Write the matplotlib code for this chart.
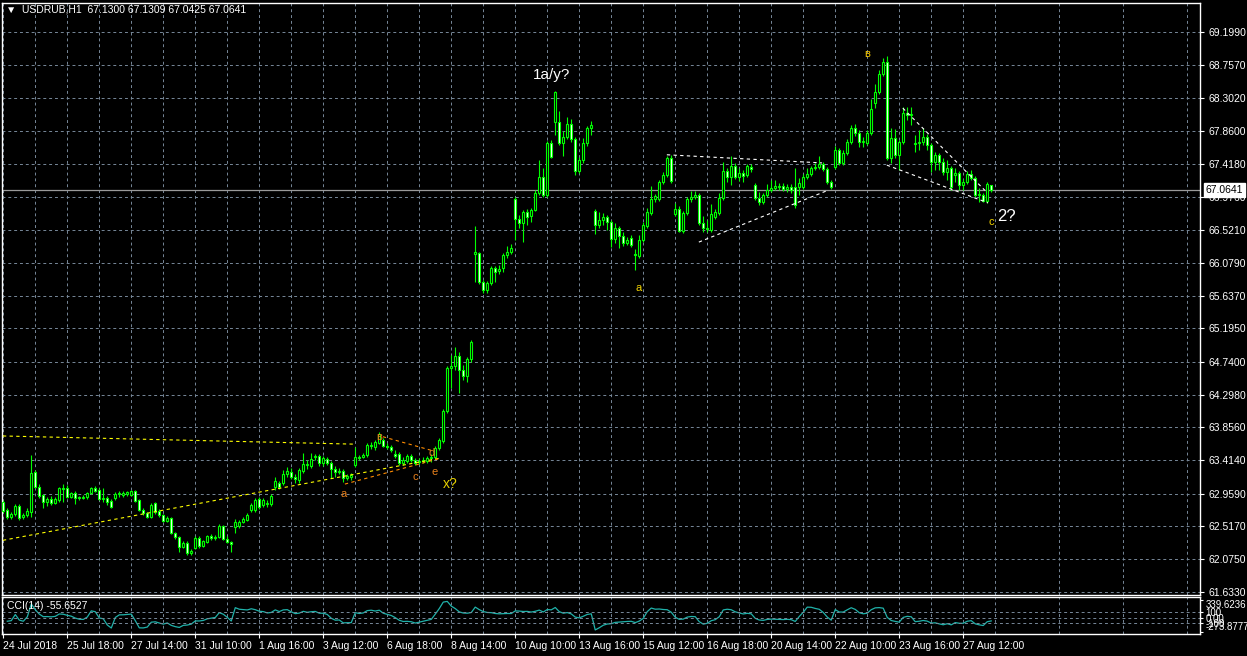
import numpy as np
import pandas as pd
import matplotlib
matplotlib.use("Agg")
import matplotlib.pyplot as plt

plt.rcParams["font.family"] = ["Liberation Sans", "DejaVu Sans"]

# USDRUB H1 candles, one value per bar
opens = [
    62.85, 62.74, 62.64, 62.68, 62.79, 62.64, 62.67, 62.71, 63.25, 63.05,
    62.94, 62.85, 62.89, 62.83, 62.87, 63.04, 63.04, 62.92, 62.97, 62.91,
    62.90, 62.92, 62.97, 63.04, 63.01, 62.89, 62.90, 62.86, 62.90, 62.96,
    62.94, 62.96, 62.94, 63.00, 62.87, 62.74, 62.70, 62.64, 62.83, 62.73,
    62.67, 62.59, 62.63, 62.43, 62.37, 62.24, 62.29, 62.16, 62.23, 62.36,
    62.25, 62.31, 62.39, 62.36, 62.37, 62.52, 62.35, 62.31, 62.51, 62.52,
    62.58, 62.60, 62.74, 62.74, 62.89, 62.81, 62.82, 62.82, 63.05, 63.11,
    63.11, 63.23, 63.25, 63.19, 63.15, 63.27, 63.35, 63.33, 63.45, 63.47,
    63.37, 63.43, 63.37, 63.29, 63.25, 63.27, 63.17, 63.19, 63.35, 63.45,
    63.45, 63.48, 63.60, 63.59, 63.64, 63.68, 63.60, 63.59, 63.49, 63.49,
    63.37, 63.40, 63.47, 63.41, 63.39, 63.40, 63.40, 63.44, 63.45, 63.58,
    63.67, 64.08, 64.66, 64.68, 64.82, 64.63, 64.55, 64.78, 66.20, 66.21,
    65.82, 65.71, 65.81, 66.01, 65.97, 66.01, 66.19, 66.23, 66.94, 66.67,
    66.62, 66.77, 66.71, 66.79, 67.02, 67.24, 67.00, 67.70, 67.98, 67.98,
    67.70, 67.78, 67.96, 67.75, 67.32, 67.47, 67.70, 67.90, 66.78, 66.59,
    66.66, 66.70, 66.63, 66.40, 66.55, 66.44, 66.35, 66.42, 66.20, 66.17,
    66.39, 66.58, 66.75, 66.94, 66.94, 67.17, 67.27, 67.50, 66.74, 66.81,
    66.51, 66.75, 66.94, 66.97, 67.00, 66.62, 66.55, 66.52, 66.70, 66.75,
    66.96, 67.32, 67.24, 67.39, 67.24, 67.29, 67.27, 67.37, 67.13, 66.96,
    66.90, 67.00, 67.06, 67.09, 67.10, 67.12, 67.08, 67.10, 67.10, 67.10,
    67.10, 67.24, 67.28, 67.36, 67.37, 67.42, 67.35, 67.17, 67.37, 67.60,
    67.43, 67.56, 67.71, 67.90, 67.83, 67.71, 67.70, 67.83, 68.24, 68.39,
    68.63, 68.79, 67.50, 67.77, 67.54, 67.71, 68.10, 68.08, 67.70, 67.70,
    67.71, 67.78, 67.67, 67.44, 67.54, 67.44, 67.31, 67.36, 67.27, 67.29,
    67.13, 67.17, 67.28, 67.23, 67.00, 67.00, 66.92, 67.13,
]
highs = [
    62.87, 62.77, 62.71, 62.82, 62.82, 62.70, 62.77, 63.48, 63.28, 63.09,
    62.96, 62.92, 62.93, 62.92, 63.05, 63.09, 63.08, 62.98, 63.00, 62.93,
    62.94, 62.98, 63.05, 63.06, 63.04, 63.04, 62.93, 62.89, 62.98, 63.00,
    63.00, 63.00, 63.01, 63.01, 62.89, 62.77, 62.71, 62.83, 62.85, 62.75,
    62.68, 62.66, 62.64, 62.44, 62.39, 62.32, 62.32, 62.21, 62.39, 62.39,
    62.33, 62.40, 62.41, 62.40, 62.55, 62.54, 62.39, 62.32, 62.62, 62.60,
    62.64, 62.70, 62.83, 62.90, 62.92, 62.90, 62.87, 62.96, 63.19, 63.13,
    63.28, 63.32, 63.31, 63.23, 63.31, 63.51, 63.41, 63.51, 63.49, 63.49,
    63.47, 63.45, 63.40, 63.33, 63.31, 63.29, 63.23, 63.24, 63.59, 63.48,
    63.51, 63.64, 63.66, 63.68, 63.79, 63.71, 63.64, 63.62, 63.55, 63.52,
    63.45, 63.49, 63.49, 63.44, 63.44, 63.45, 63.47, 63.49, 63.60, 63.71,
    64.10, 64.68, 64.83, 64.94, 64.87, 64.70, 64.81, 65.04, 66.58, 66.23,
    65.85, 65.83, 66.04, 66.04, 66.05, 66.21, 66.31, 66.33, 66.97, 66.73,
    66.79, 66.81, 66.82, 67.06, 67.47, 67.36, 67.73, 67.74, 68.40, 68.13,
    67.86, 68.05, 68.02, 67.78, 67.51, 67.77, 67.93, 68.00, 66.81, 66.77,
    66.75, 66.73, 66.66, 66.62, 66.58, 66.50, 66.43, 66.46, 66.27, 66.46,
    66.63, 66.82, 67.12, 67.01, 67.20, 67.31, 67.52, 67.54, 66.89, 66.85,
    66.78, 66.97, 67.05, 67.05, 67.02, 66.71, 66.66, 66.87, 66.81, 67.02,
    67.44, 67.36, 67.52, 67.43, 67.36, 67.33, 67.42, 67.42, 67.16, 67.04,
    67.02, 67.14, 67.20, 67.20, 67.16, 67.16, 67.14, 67.14, 67.36, 67.23,
    67.28, 67.36, 67.39, 67.43, 67.52, 67.44, 67.37, 67.20, 67.66, 67.63,
    67.60, 67.75, 67.94, 67.96, 67.87, 67.78, 67.87, 68.29, 68.50, 68.69,
    68.85, 68.87, 67.90, 67.89, 67.74, 68.19, 68.19, 68.19, 67.81, 67.87,
    67.90, 67.82, 67.70, 67.58, 67.56, 67.50, 67.47, 67.39, 67.36, 67.32,
    67.21, 67.32, 67.33, 67.25, 67.09, 67.02, 67.17, 67.131,
]
lows = [
    62.70, 62.62, 62.62, 62.66, 62.60, 62.62, 62.64, 62.64, 63.04, 62.90,
    62.77, 62.79, 62.81, 62.82, 62.85, 62.85, 62.90, 62.90, 62.82, 62.87,
    62.89, 62.89, 62.96, 62.98, 62.87, 62.85, 62.81, 62.77, 62.87, 62.92,
    62.92, 62.93, 62.93, 62.85, 62.73, 62.67, 62.63, 62.63, 62.68, 62.64,
    62.58, 62.58, 62.41, 62.35, 62.17, 62.23, 62.13, 62.13, 62.21, 62.23,
    62.24, 62.29, 62.33, 62.33, 62.36, 62.33, 62.29, 62.17, 62.43, 62.50,
    62.56, 62.59, 62.71, 62.71, 62.75, 62.78, 62.78, 62.79, 63.01, 63.02,
    63.08, 63.19, 63.16, 63.11, 63.11, 63.24, 63.29, 63.31, 63.41, 63.33,
    63.33, 63.35, 63.17, 63.19, 63.23, 63.12, 63.15, 63.15, 63.32, 63.41,
    63.44, 63.45, 63.56, 63.55, 63.63, 63.59, 63.56, 63.52, 63.44, 63.35,
    63.35, 63.37, 63.39, 63.35, 63.36, 63.37, 63.37, 63.39, 63.43, 63.55,
    63.64, 64.05, 64.39, 64.63, 64.32, 64.50, 64.47, 64.74, 65.82, 65.79,
    65.67, 65.67, 65.78, 65.82, 65.93, 65.96, 66.15, 66.20, 66.39, 66.55,
    66.36, 66.59, 66.63, 66.78, 67.00, 66.97, 66.97, 67.50, 67.81, 67.67,
    67.52, 67.75, 67.71, 67.27, 67.29, 67.43, 67.66, 67.81, 66.47, 66.55,
    66.59, 66.52, 66.29, 66.35, 66.28, 66.31, 66.32, 66.29, 65.98, 66.15,
    66.36, 66.55, 66.73, 66.90, 66.92, 67.14, 67.24, 67.16, 66.71, 66.50,
    66.48, 66.73, 66.90, 66.94, 66.59, 66.50, 66.50, 66.50, 66.67, 66.73,
    66.93, 67.17, 67.13, 67.21, 67.19, 67.17, 67.24, 67.31, 66.93, 66.86,
    66.87, 66.97, 67.04, 67.06, 67.06, 67.05, 67.04, 67.02, 66.82, 67.00,
    67.08, 67.21, 67.25, 67.33, 67.35, 67.32, 67.14, 67.08, 67.35, 67.40,
    67.40, 67.54, 67.69, 67.79, 67.64, 67.64, 67.67, 67.81, 68.17, 68.36,
    68.60, 67.47, 67.43, 67.50, 67.33, 67.69, 68.01, 67.94, 67.58, 67.60,
    67.67, 67.60, 67.31, 67.33, 67.33, 67.27, 67.20, 67.06, 67.17, 67.06,
    67.06, 67.14, 67.20, 66.97, 66.90, 66.90, 66.89, 67.0425,
]
closes = [
    62.73, 62.64, 62.68, 62.79, 62.63, 62.67, 62.73, 63.24, 63.05, 62.93,
    62.85, 62.89, 62.83, 62.89, 63.04, 63.02, 62.92, 62.97, 62.90, 62.90,
    62.92, 62.97, 63.04, 63.00, 62.89, 62.90, 62.85, 62.78, 62.96, 62.97,
    62.97, 62.98, 63.00, 62.86, 62.74, 62.70, 62.64, 62.81, 62.71, 62.67,
    62.59, 62.63, 62.43, 62.37, 62.24, 62.29, 62.16, 62.19, 62.36, 62.25,
    62.32, 62.39, 62.36, 62.37, 62.52, 62.35, 62.31, 62.28, 62.58, 62.58,
    62.62, 62.67, 62.81, 62.87, 62.78, 62.87, 62.83, 62.93, 63.13, 63.05,
    63.23, 63.27, 63.19, 63.16, 63.28, 63.36, 63.36, 63.43, 63.47, 63.37,
    63.44, 63.37, 63.29, 63.25, 63.27, 63.17, 63.20, 63.21, 63.45, 63.44,
    63.48, 63.62, 63.62, 63.66, 63.77, 63.60, 63.59, 63.55, 63.47, 63.37,
    63.41, 63.47, 63.41, 63.37, 63.40, 63.41, 63.44, 63.45, 63.58, 63.68,
    64.08, 64.66, 64.68, 64.82, 64.63, 64.55, 64.78, 65.01, 66.23, 65.82,
    65.71, 65.81, 66.01, 65.96, 66.00, 66.19, 66.23, 66.28, 66.67, 66.62,
    66.77, 66.70, 66.79, 67.02, 67.24, 67.00, 67.70, 67.51, 68.39, 67.70,
    67.78, 67.96, 67.75, 67.32, 67.47, 67.70, 67.90, 67.94, 66.59, 66.66,
    66.70, 66.63, 66.40, 66.55, 66.44, 66.35, 66.39, 66.32, 66.19, 66.39,
    66.59, 66.77, 66.94, 66.98, 67.17, 67.27, 67.50, 67.19, 66.81, 66.51,
    66.75, 66.94, 66.97, 67.00, 66.62, 66.55, 66.54, 66.74, 66.77, 66.96,
    67.32, 67.24, 67.39, 67.24, 67.29, 67.25, 67.39, 67.35, 66.96, 66.90,
    67.00, 67.06, 67.09, 67.12, 67.12, 67.08, 67.10, 67.06, 66.86, 67.16,
    67.24, 67.28, 67.36, 67.37, 67.42, 67.35, 67.17, 67.10, 67.60, 67.43,
    67.56, 67.71, 67.90, 67.83, 67.71, 67.73, 67.83, 68.16, 68.39, 68.63,
    68.79, 67.50, 67.77, 67.54, 67.71, 68.10, 68.08, 68.09, 67.69, 67.71,
    67.78, 67.67, 67.44, 67.54, 67.44, 67.31, 67.36, 67.10, 67.29, 67.13,
    67.17, 67.28, 67.23, 67.00, 67.01, 66.92, 67.14, 67.0641,
]

price_ticks = [69.199, 68.757, 68.302, 67.860, 67.418, 66.976, 66.521, 66.079, 65.637,
               65.195, 64.740, 64.298, 63.856, 63.414, 62.959, 62.517, 62.075, 61.633]
date_labels = ["24 Jul 2018", "25 Jul 18:00", "27 Jul 14:00", "31 Jul 10:00", "1 Aug 16:00",
               "3 Aug 12:00", "6 Aug 18:00", "8 Aug 14:00", "10 Aug 10:00", "13 Aug 16:00",
               "15 Aug 12:00", "16 Aug 18:00", "20 Aug 14:00", "22 Aug 10:00", "23 Aug 16:00",
               "27 Aug 12:00"]
last_price = 67.0641
cci_levels = [339.6236, 100, 0, -100, -273.8777]
cci_level_labels = ["339.6236", "100", "0.00", "-100", "-273.8777"]

# wave marks: text, bar, price, colour, size
wave_text = ["1a/y?", "2?", "c", "в", "a", "a", "в", "c", "d", "e", "x?"]
wave_bar = [137.2, 250.9, 247.1, 215.9, 158.9, 85.2, 93.9, 102.9, 107.2, 107.9, 111.7]
wave_price = [68.62, 66.70, 66.63, 68.90, 65.74, 62.95, 63.72, 63.18, 63.51, 63.25, 63.09]
wave_color = ["white", "white", "#f2d400", "#f2c400", "#f2d400",
              "#e8801c", "#e8801c", "#e8801c", "#e8801c", "#e8801c", "#e6d000"]
wave_size = [11, 12, 8, 8, 8, 8, 8, 8, 8, 8, 10]

# trend lines: (bar0, price0, bar1, price1), colour
trend_lines = [
    ((-0.1, 63.74, 87.5, 63.63), "#ffff00"),
    ((-0.1, 62.33, 109.2, 63.44), "#ffff00"),
    ((94.9, 63.73, 107.4, 63.54), "#ff8c00"),
    ((85.4, 63.09, 108.7, 63.43), "#ff8c00"),
    ((165.9, 67.54, 204.7, 67.43), "white"),
    ((173.9, 66.36, 206.2, 67.06), "white"),
    ((224.9, 68.17, 245.4, 67.06), "white"),
    ((220.9, 67.40, 246.2, 66.89), "white"),
]

W, H = 1247, 656
grid_color = "#778899"
lime = "#00ff00"

o = np.array(opens)
hi = np.array(highs)
lo = np.array(lows)
c = np.array(closes)
x = np.arange(len(c))

# CCI(14) from the same bars
tp = pd.Series((hi + lo + c) / 3)
sma = tp.rolling(14, min_periods=1).mean()
mdev = tp.rolling(14, min_periods=1).apply(lambda w: np.mean(np.abs(w - w.mean())), raw=True)
cci = (tp - sma) / (0.015 * mdev)

fig = plt.figure(figsize=(W / 100, H / 100), dpi=100, facecolor="black")
ax = fig.add_axes([2 / W, 1 - 595 / H, 1198 / W, 592 / H], facecolor="black")
cax = fig.add_axes([2 / W, 1 - 634 / H, 1198 / W, 37 / H], facecolor="black", sharex=ax)

for a in (ax, cax):
    for s in a.spines.values():
        s.set_color("white")
        s.set_linewidth(1)
    a.set_xticks(range(0, 241, 16))
    a.set_xticks(range(8, 300, 16), minor=True)
    a.grid(True, axis="x", which="both", color=grid_color, linestyle=(0, (3, 3)), lw=0.7)
    a.set_axisbelow(True)

# candles
bull = c >= o
ax.vlines(x, lo, hi, color=lime, lw=0.8, zorder=2)
ax.bar(x, np.abs(c - o), bottom=np.minimum(o, c), width=0.5,
       color=np.where(bull, "black", "white"), edgecolor=lime, linewidth=0.8, zorder=3)

ax.set_xlim(-0.325, 299.2)
ax.set_ylim(61.591, 69.591)
ax.yaxis.tick_right()
ax.set_yticks(price_ticks)
ax.set_yticklabels([f"{p:.4f}" for p in price_ticks])
ax.grid(True, axis="y", color=grid_color, linestyle=(0, (3, 3)), lw=0.7)
ax.tick_params(axis="y", colors="white", labelsize=7.5, length=3, width=0.8, pad=3)
ax.tick_params(axis="x", which="both", length=0, labelbottom=False)

ax.axhline(last_price, color="#9a9a9a", lw=0.9, zorder=1)
ax.text(1.005, last_price, f"{last_price:.4f}", transform=ax.get_yaxis_transform(),
        color="black", fontsize=7.5, va="center", ha="left", zorder=10, clip_on=False,
        bbox=dict(boxstyle="square,pad=0.15", facecolor="white", edgecolor="white"))

for (b0, p0, b1, p1), col in trend_lines:
    ax.plot([b0, b1], [p0, p1], color=col, lw=0.8, linestyle=(0, (3, 3)), zorder=4)

for t, b, p, col, fs in zip(wave_text, wave_bar, wave_price, wave_color, wave_size):
    ax.text(b, p, t, color=col, fontsize=fs, ha="center", va="center", zorder=6)

fig.text(6 / W, 1 - 10 / H, "\u25bc  USDRUB,H1  67.1300 67.1309 67.0425 67.0641",
         color="white", fontsize=7.5, va="center", ha="left")

# CCI panel
cax.plot(x, cci, color="#20b2aa", lw=0.9)
for lvl in (100, 0, -100):
    cax.axhline(lvl, color=grid_color, lw=0.7, linestyle=(0, (3, 3)))
cax.set_ylim(-307, 390)
cax.yaxis.tick_right()
cax.set_yticks(cci_levels)
cax.set_yticklabels(cci_level_labels)
cax.tick_params(axis="y", colors="white", labelsize=7, length=2, width=0.8, pad=2)
ylabels = cax.get_yticklabels()
ylabels[0].set_va("top")
ylabels[-1].set_va("bottom")
cax.text(5 / 1198, 0.76, "CCI(14) -55.6527", transform=cax.transAxes,
         color="white", fontsize=7.5, va="center", ha="left")

cax.set_xticklabels(date_labels, ha="left")
cax.tick_params(axis="x", which="major", colors="white", labelsize=7.5, length=3,
                width=0.8, pad=2)
cax.tick_params(axis="x", which="minor", length=0)

fig.savefig("out.png", dpi=100, facecolor="black")
